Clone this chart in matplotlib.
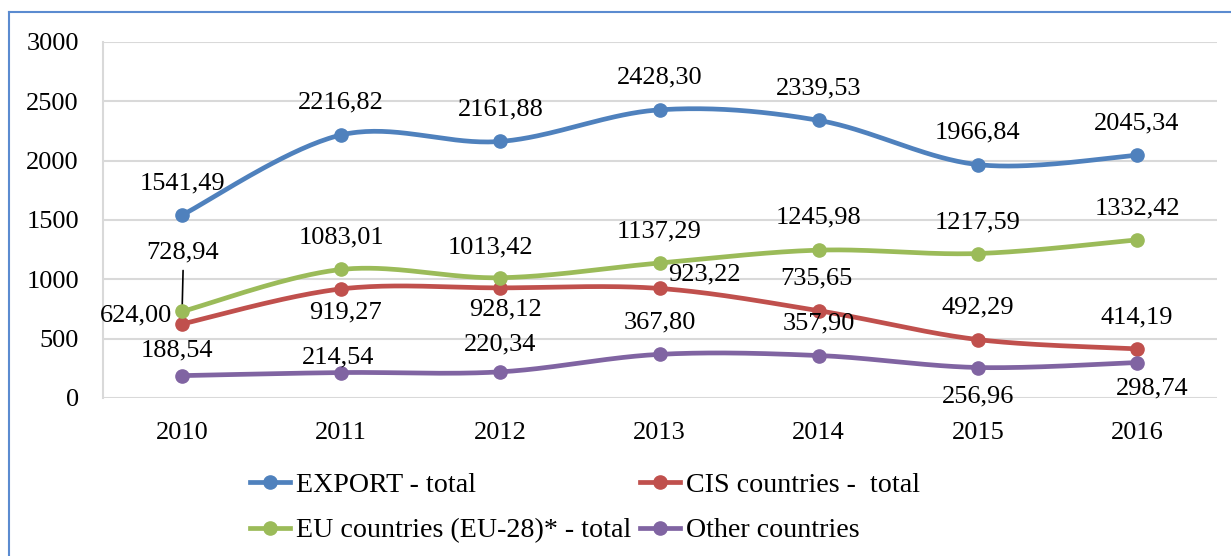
import matplotlib
matplotlib.use("Agg")
import matplotlib.pyplot as plt
from matplotlib.lines import Line2D
import numpy as np

years = ["2010", "2011", "2012", "2013", "2014", "2015", "2016"]
export_total = [1541.49, 2216.82, 2161.88, 2428.30, 2339.53, 1966.84, 2045.34]
cis_total = [624.00, 919.27, 928.12, 923.22, 735.65, 492.29, 414.19]
eu_total = [728.94, 1083.01, 1013.42, 1137.29, 1245.98, 1217.59, 1332.42]
other_total = [188.54, 214.54, 220.34, 367.80, 357.90, 256.96, 298.74]

series_names = ["EXPORT - total", "CIS countries -  total",
                "EU countries (EU-28)* - total", "Other countries"]
colors = ["#4F81BD", "#C0504D", "#9BBB59", "#8064A2"]

# label offsets in pixels (dx, dy), dy positive = up
export_off = [(0, 32)] * 7
cis_off = [(-46, 8), (4, -24), (5, -22), (45, 14), (-2, 32), (0, 32), (0, 31)]
eu_off = [(0, 59), (0, 32), (-10, 30), (0, 32), (0, 33), (0, 31), (0, 31)]
other_off = [(-5, 25), (-3, 15), (0, 27), (0, 32), (0, 32), (0, -29), (15, -26)]

FONT = "Liberation Serif"
FS = 19
plt.rcParams['font.family'] = [FONT, 'DejaVu Serif']


def smooth(x, y, n=40):
    # excel-like smoothed line: cubic bezier with catmull-rom control points
    x = np.asarray(x, float)
    y = np.asarray(y, float)
    px = np.concatenate([[x[0]], x, [x[-1]]])
    py = np.concatenate([[y[0]], y, [y[-1]]])
    xs, ys = [], []
    t = np.linspace(0, 1, n)
    for i in range(1, len(px) - 2):
        p0 = np.array([px[i], py[i]])
        p3 = np.array([px[i + 1], py[i + 1]])
        p1 = p0 + (p3 - np.array([px[i - 1], py[i - 1]])) / 6
        p2 = p3 - (np.array([px[i + 2], py[i + 2]]) - p0) / 6
        b = ((1 - t) ** 3)[:, None] * p0 + (3 * (1 - t) ** 2 * t)[:, None] * p1 \
            + (3 * (1 - t) * t ** 2)[:, None] * p2 + (t ** 3)[:, None] * p3
        xs.extend(b[:, 0])
        ys.extend(b[:, 1])
    return xs, ys


fig = plt.figure(figsize=(12.31, 5.56), dpi=100)
W, H = 1231, 556
ax = fig.add_axes([102.5 / W, 1 - 398 / H, (1216.6 - 102.5) / W, (398 - 42) / H])

x = np.arange(len(years)) + 0.5
all_series = [export_total, cis_total, eu_total, other_total]
all_off = [export_off, cis_off, eu_off, other_off]
for vals, col in zip(all_series, colors):
    sx, sy = smooth(x, vals)
    ax.plot(sx, sy, color=col, lw=3.4, solid_capstyle='round', zorder=3)
    ax.plot(x, vals, 'o', color=col, ms=9.5, zorder=4)

for vals, offs in zip(all_series, all_off):
    for xi, v, (dx, dy) in zip(x, vals, offs):
        ax.annotate(f"{v:.2f}".replace(".", ","), (xi, v), xytext=(dx, dy),
                    textcoords='offset pixels', ha='center', va='center',
                    fontsize=FS, color='black', zorder=5)

# leader line for the EU 2010 label
ax.annotate("", (x[0], eu_total[0]), xytext=(1, 41), textcoords='offset pixels',
            arrowprops=dict(arrowstyle='-', color='black', lw=1.2,
                            shrinkA=0, shrinkB=3))

ax.set_xlim(0, len(years))
ax.set_ylim(0, 3000)
ax.set_yticks(range(0, 3001, 500))
ax.set_xticks(x)
ax.set_xticklabels(years)
ax.tick_params(length=0, labelsize=FS)
ax.tick_params(axis='y', pad=17)
ax.tick_params(axis='x', pad=17)
ax.grid(axis='y', color='#D9D9D9', lw=1.5)
ax.set_axisbelow(True)
for s in ['top', 'right', 'bottom']:
    ax.spines[s].set_visible(False)
ax.spines['left'].set_color('#D9D9D9')
ax.spines['left'].set_linewidth(1.5)

# legend fills column-wise, so reorder to get export/cis on the first row
handles = [Line2D([], [], color=c, lw=3.4, marker='o', ms=9.5) for c in colors]
order = [0, 2, 1, 3]
fig.legend([handles[i] for i in order], [series_names[i] for i in order],
           ncol=2, loc='center left',
           bbox_to_anchor=(250 / W, 1 - 508 / H), frameon=False,
           fontsize=20.2, borderpad=0, borderaxespad=0, handlelength=1.42,
           handletextpad=0.22, columnspacing=0.32, labelspacing=0.7)

# chart border (blue), right/bottom edges fall outside the picture
fig.add_artist(plt.Line2D([9 / W, 1], [1 - 12 / H, 1 - 12 / H], color='#5B8BD0', lw=1.5))
fig.add_artist(plt.Line2D([9 / W, 9 / W], [0, 1 - 12 / H], color='#5B8BD0', lw=1.5))

fig.savefig("out.png", dpi=100)
